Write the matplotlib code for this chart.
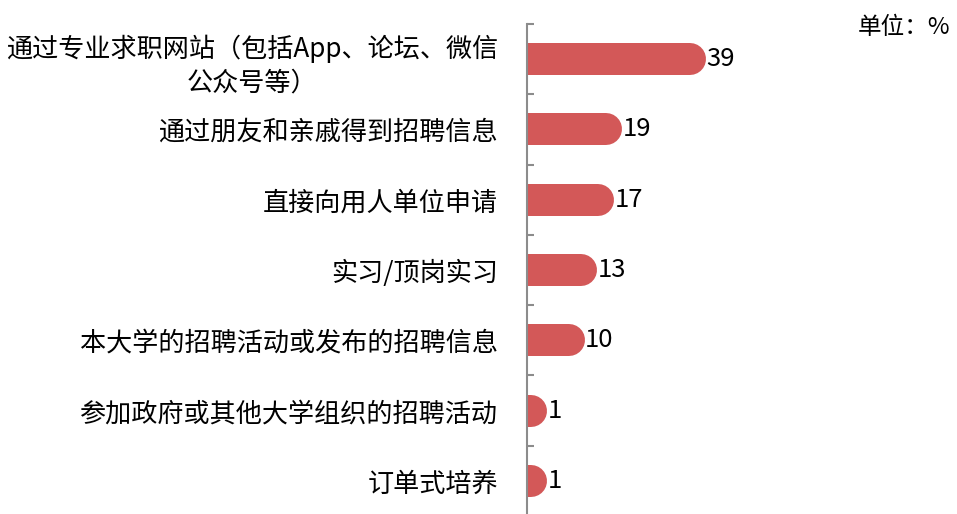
import matplotlib
matplotlib.use('Agg')
import matplotlib.pyplot as plt
import numpy as np

plt.rcParams['font.family'] = ['Noto Sans CJK SC', 'DejaVu Sans']

# data, top to bottom
categories = ['通过专业求职网站（包括App、论坛、微信\n公众号等）',
              '通过朋友和亲戚得到招聘信息',
              '直接向用人单位申请',
              '实习/顶岗实习',
              '本大学的招聘活动或发布的招聘信息',
              '参加政府或其他大学组织的招聘活动',
              '订单式培养']
values = [39, 19, 17, 13, 10, 1, 1]
unit_text = '单位：%'

bar_color = '#D35858'
axis_color = '#8C8C8C'

fig = plt.figure(figsize=(9.57, 5.14), dpi=100)
# axis line sits at x=527px, top at y=24px
ax = fig.add_axes([527 / 957, -2 / 514, 188 / 957, 1 - 22 / 514])

n = len(categories)
ypos = np.arange(n)
bar_h_pt = 32 * 72 / 100  # bar thickness 32 px -> points
cap_pt = bar_h_pt / 2

for y, v in zip(ypos, values):
    # round cap line; the left cap is clipped by the axes edge at x=0
    ax.plot([0, v], [y, y], color=bar_color, lw=bar_h_pt,
            solid_capstyle='round', zorder=2)
    ax.annotate(str(v), xy=(v, y), xytext=(cap_pt + 0.3, 0),
                textcoords='offset points', ha='left', va='center',
                fontsize=18.5, color='black')

ax.set_xlim(0, 45)
ax.set_ylim(n - 0.5, -0.5)

for s in ['top', 'right', 'bottom']:
    ax.spines[s].set_visible(False)
ax.spines['left'].set_color(axis_color)
ax.spines['left'].set_linewidth(1.5)
ax.set_xticks([])

ax.set_yticks(ypos)
ax.set_yticklabels(categories, fontsize=18.8, multialignment='center',
                   linespacing=1.3)
ax.tick_params(axis='y', which='major', length=0, pad=21)
ax.set_yticks(np.arange(-0.5, n, 1.0), minor=True)
ax.tick_params(axis='y', which='minor', direction='in', length=5,
               width=1.5, color=axis_color)

fig.text(950 / 957, 1 - 28 / 514, unit_text, ha='right', va='center',
         fontsize=17)

fig.savefig('out.png', dpi=100)
